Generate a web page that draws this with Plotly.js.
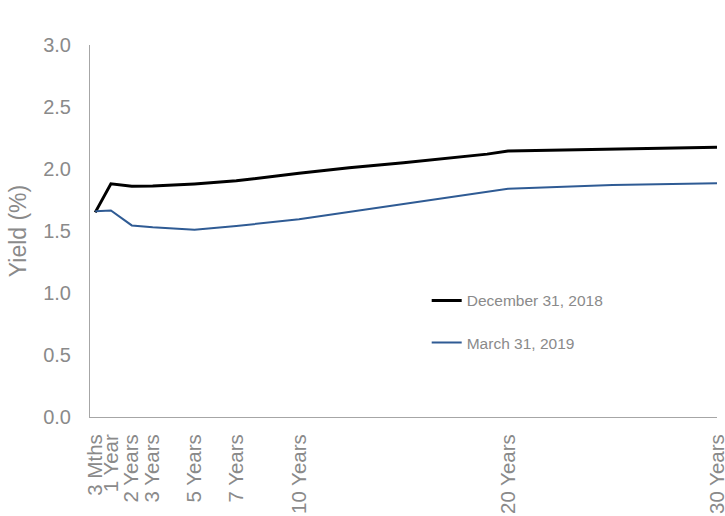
<!DOCTYPE html>
<html>
<head>
<meta charset="utf-8">
<script src="https://cdn.plot.ly/plotly-3.0.1.min.js"></script>
<style>html,body{margin:0;padding:0;background:#fff;}#chart{width:725px;height:516px;}</style>
</head>
<body>
<div id="chart"></div>
<script>
// Maturity in years
var maturities = [0.25, 1, 2, 3, 5, 7, 10, 12.4, 15, 17, 19, 20, 25, 30];
var dec2018 = [1.65, 1.88, 1.86, 1.862, 1.88, 1.905, 1.965, 2.01, 2.05, 2.085, 2.12, 2.145, 2.16, 2.175];
var mar2019 = [1.66, 1.665, 1.545, 1.53, 1.51, 1.54, 1.595, 1.655, 1.717, 1.765, 1.815, 1.84, 1.87, 1.885];
var tickVals = [0.25, 1, 2, 3, 5, 7, 10, 20, 30];
var tickText = ["3 Mths", "1 Year", "2 Years", "3 Years", "5 Years", "7 Years", "10 Years", "20 Years", "30 Years"];
var seriesNames = ["December 31, 2018", "March 31, 2019"];

var gray = '#8a8a8a';
var traces = [
  {x: maturities, y: dec2018, name: seriesNames[0], mode: 'lines', legendgroup: 'a',
   line: {color: '#000000', width: 3}},
  {x: maturities, y: mar2019, name: seriesNames[1], mode: 'lines', legendgroup: 'b',
   line: {color: '#2f5b94', width: 2}}
];
var layout = {
  width: 725, height: 516,
  margin: {l: 90, r: 8, t: 45, b: 99},
  paper_bgcolor: '#fff', plot_bgcolor: '#fff',
  font: {family: 'Liberation Sans, Arial, sans-serif', color: gray},
  showlegend: true,
  legend: {x: 0.537, y: 0.358, xanchor: 'left', yanchor: 'top', traceorder: 'grouped',
           tracegroupgap: 19, font: {size: 15.5, color: gray}, bgcolor: 'rgba(0,0,0,0)'},
  xaxis: {type: 'linear', range: [0, 30], tickmode: 'array', tickvals: tickVals, ticktext: tickText,
          tickangle: -90, showgrid: false, zeroline: false, showline: true, linecolor: '#a6a6a6', linewidth: 1,
          ticklabeloverflow: 'allow', automargin: false,
          ticks: 'outside', ticklen: 8, tickcolor: 'rgba(0,0,0,0)', tickfont: {size: 20.5, color: gray}},
  yaxis: {range: [0, 3], dtick: 0.5, tickformat: '.1f', showgrid: false, zeroline: false,
          showline: true, linecolor: '#a6a6a6', linewidth: 1, automargin: false,
          ticks: 'outside', ticklen: 14, tickcolor: 'rgba(0,0,0,0)', tickfont: {size: 20, color: gray},
          title: {text: 'Yield (%)', font: {size: 23, color: gray}, standoff: 10}}
};
Plotly.newPlot('chart', traces, layout, {displayModeBar: false, staticPlot: true});
</script>
</body>
</html>
